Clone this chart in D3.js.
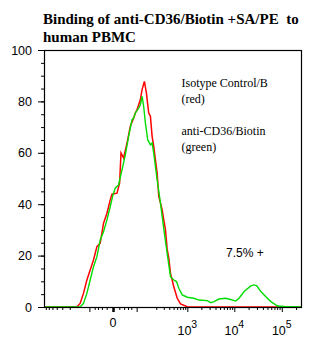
<!DOCTYPE html>
<html>
<head>
<meta charset="utf-8">
<script src="https://cdn.jsdelivr.net/npm/d3@7"></script>
<style>
  body { margin: 0; background: #fff; }
  svg { display: block; }
</style>
</head>
<body>
<svg id="chart" width="325" height="343"></svg>
<script>
// histogram channels (0..256) and % of max counts
const redChannels = [0, 32.7, 36, 39.3, 42.7, 46, 49.3, 52.7, 56, 59.3, 62.7, 66, 67.7, 72.7, 75.3, 76.7, 79.3, 82.7, 86, 89.3, 91, 92.7, 94.3, 96, 97.7, 100, 102, 104.3, 106, 107.7, 109.3, 112.7, 114.3, 116, 117.7, 119.3, 121, 122.7, 124.3, 126, 129.3, 132.7, 136, 142.7, 150, 256];
const redCounts   = [0, 0, 1.4, 5.3, 10.5, 14.4, 18.3, 23.5, 24.8, 32.6, 36.5, 41.7, 43.9, 44.3, 48.2, 59.9, 58, 63.8, 70.3, 73.5, 75.5, 76.8, 78.7, 80.7, 84.6, 87.8, 83.3, 75.5, 74.2, 66.4, 62.5, 52.1, 43, 40.5, 37.8, 33.9, 30, 22.5, 19, 13.1, 7.9, 3.4, 1.2, 0.1, 0, 0];

const greenChannels = [0, 36, 39.3, 42.7, 46, 49.3, 52.7, 56, 59.3, 62.7, 66, 68.7, 71, 74.3, 77.7, 81, 84.3, 87.7, 89.3, 91, 94.3, 96, 97.7, 99.3, 101, 103.3, 106, 107.7, 109.3, 112.7, 116, 119.3, 122.7, 126, 129.3, 132, 134.3, 137.7, 142.7, 149.3, 154.3, 162.7, 166, 169.3, 174.3, 181, 186, 191, 194.3, 199.3, 206, 209.3, 212, 216, 221, 226, 232.7, 239.3, 256];
const greenCounts   = [0, 0, 1.4, 5.3, 10.5, 15.7, 19.6, 26.1, 29.3, 33.9, 39.1, 43.6, 46.3, 47.5, 53.4, 59.2, 66.4, 72.9, 73.5, 75.5, 77.4, 78.7, 82, 78, 71.6, 65.1, 63.1, 63.8, 59.9, 49.5, 40.4, 30.5, 20.9, 11.8, 10.5, 9.9, 7.3, 4.7, 3.8, 3.4, 2.7, 2.5, 1.7, 2.1, 3.1, 3.4, 2.9, 2.3, 3.4, 6, 8.2, 8.6, 8.2, 6, 4, 2.1, 0.4, 0.2, 0];

const yMajorTicks = [0, 20, 40, 60, 80, 100];
const yMinorTicks = d3.range(0, 101, 5);
const xMajorTicks = [1e3, 1e4, 1e5];
const xMidTicks = [-60, 60];
const xMinorTicks = [-700, -600, -500, -400, -300, -200, -40, -30, -20, -10, 10, 20, 30, 40,
  200, 300, 400, 500, 600, 700, 800, 900,
  2000, 3000, 4000, 5000, 6000, 7000, 8000, 9000,
  20000, 30000, 40000, 50000, 60000, 70000, 80000, 90000, 200000];
const xLabelExp = ['3', '4', '5'];

const titleLines = ['Binding of anti-CD36/Biotin +SA/PE  to', 'human PBMC'];
const legendLines = ['Isotype Control/B', '(red)', '', 'anti-CD36/Biotin', '(green)'];
const gateLabel = '7.5% +';

const margin = { top: 50, left: 44 };
const width = 257, height = 257;

const svg = d3.select('#chart');

const g = svg.append('g')
  .attr('transform', `translate(${margin.left},${margin.top})`);

const xChan = d3.scaleLinear().domain([0, 256]).range([0, width]);
const xFluor = d3.scaleSymlog().constant(28).domain([-766, 254000]).range([0, width]);
const y = d3.scaleLinear().domain([0, 100]).range([height, 0]);

// title
svg.append('g').selectAll('text')
  .data(titleLines)
  .enter().append('text')
  .attr('x', 43)
  .attr('y', (d, i) => 24 + i * 17.5)
  .style('font-family', '"Liberation Serif", "Times New Roman", serif')
  .style('font-weight', 'bold')
  .style('font-size', '15px')
  .style('fill', '#000')
  .style('white-space', 'pre')
  .attr('xml:space', 'preserve')
  .text(d => d);

// y axis
g.append('g')
  .call(d3.axisLeft(y).tickValues(yMinorTicks).tickSize(3).tickFormat(''))
  .call(a => a.select('.domain').remove());

const yAx = g.append('g')
  .call(d3.axisLeft(y).tickValues(yMajorTicks).tickSize(6).tickPadding(6));
yAx.select('.domain').remove();
yAx.selectAll('text')
  .style('font-family', '"Liberation Sans", Arial, sans-serif')
  .style('font-size', '12.5px')
  .style('fill', '#000');

// x axis
g.append('g')
  .attr('transform', `translate(0,${height})`)
  .call(d3.axisBottom(xFluor).tickValues(xMinorTicks).tickSize(3).tickFormat(''))
  .call(a => a.select('.domain').remove());

g.append('g')
  .attr('transform', `translate(0,${height})`)
  .call(d3.axisBottom(xFluor).tickValues(xMajorTicks.concat(xMidTicks)).tickSize(5).tickFormat(''))
  .call(a => a.select('.domain').remove());

g.append('g')
  .attr('transform', `translate(0,${height})`)
  .call(d3.axisBottom(xFluor).tickValues([0]).tickSize(5).tickFormat(''))
  .call(a => a.select('.domain').remove())
  .selectAll('line').attr('stroke-width', 2.5);

g.append('text')
  .attr('x', xFluor(0))
  .attr('y', height + 20)
  .attr('text-anchor', 'middle')
  .style('font-family', '"Liberation Sans", Arial, sans-serif')
  .style('font-size', '12.5px')
  .text('0');

const xl = g.append('g').selectAll('text')
  .data(xMajorTicks)
  .enter().append('text')
  .attr('x', d => xFluor(d))
  .attr('y', height + 28)
  .attr('text-anchor', 'middle')
  .style('font-family', '"Liberation Sans", Arial, sans-serif')
  .style('font-size', '12.5px');
xl.append('tspan').text('10');
xl.append('tspan')
  .attr('dy', -7)
  .style('font-size', '10.5px')
  .text((d, i) => xLabelExp[i]);

// histograms
const line = d3.line()
  .x(d => xChan(d[0]))
  .y(d => y(d[1]));

g.append('path')
  .datum(d3.zip(redChannels, redCounts))
  .attr('d', line)
  .attr('fill', 'none')
  .attr('stroke', '#ff0000')
  .attr('stroke-width', 1.5);

g.append('path')
  .datum(d3.zip(greenChannels, greenCounts))
  .attr('d', line)
  .attr('fill', 'none')
  .attr('stroke', '#00dd00')
  .attr('stroke-width', 1.4);

// frame
g.append('rect')
  .attr('x', 0.5)
  .attr('y', 0.5)
  .attr('width', width)
  .attr('height', height)
  .attr('fill', 'none')
  .attr('stroke', '#000')
  .attr('stroke-width', 1.2);

// legend
g.append('g').selectAll('text')
  .data(legendLines)
  .enter().append('text')
  .attr('x', 137.5)
  .attr('y', (d, i) => 36.5 + i * 16)
  .style('font-family', '"Liberation Serif", "Times New Roman", serif')
  .style('font-size', '12px')
  .text(d => d);

g.append('text')
  .attr('x', 182)
  .attr('y', 206.5)
  .style('font-family', '"Liberation Sans", Arial, sans-serif')
  .style('font-size', '12px')
  .text(gateLabel);
</script>
</body>
</html>
